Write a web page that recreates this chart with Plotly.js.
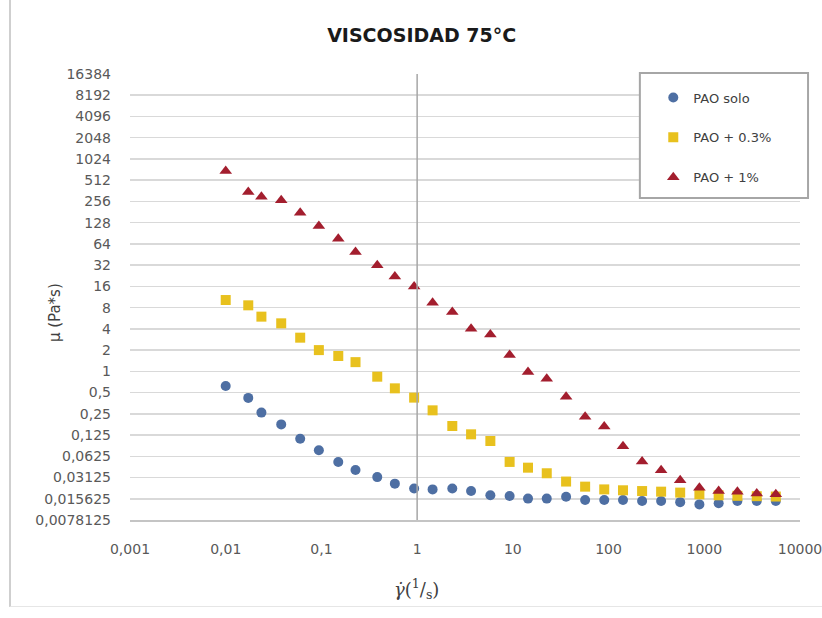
<!DOCTYPE html>
<html>
<head>
<meta charset="utf-8">
<script src="https://cdn.plot.ly/plotly-3.0.1.min.js"></script>
<style>
html,body{margin:0;padding:0;background:#fff;}
#wrap{position:relative;width:822px;height:618px;overflow:hidden;}
#chart{position:absolute;left:0;top:0;width:822px;height:618px;}
#frame{position:absolute;left:9px;top:-2px;width:830px;height:608px;border-left:2px solid #cfcfcf;border-bottom:1px solid #e6e6e6;pointer-events:none;}
</style>
</head>
<body>
<div id="wrap"><div id="chart"></div><div id="frame"></div></div>
<script>
// shear rate (1/s)
const shearRate = [0.01, 0.0172, 0.0236, 0.038, 0.060, 0.094, 0.150, 0.227, 0.383, 0.585,
  0.93, 1.45, 2.33, 3.66, 5.82, 9.25, 14.4, 22.6, 36, 56.9,
  90.1, 141.5, 224, 354, 560, 889, 1413, 2218, 3534, 5590];
// viscosity (Pa*s)
const paoSolo = [0.62, 0.42, 0.26, 0.177, 0.111, 0.076, 0.052, 0.040, 0.0317, 0.0256,
  0.0218, 0.0212, 0.0218, 0.0201, 0.0175, 0.0171, 0.0157, 0.0157, 0.0167, 0.0150,
  0.0150, 0.0150, 0.0145, 0.0145, 0.0140, 0.0130, 0.0135, 0.0145, 0.0145, 0.0145];
const pao03 = [10.25, 8.62, 5.96, 4.79, 3.00, 2.00, 1.65, 1.35, 0.84, 0.574,
  0.424, 0.280, 0.168, 0.128, 0.103, 0.052, 0.0431, 0.0359, 0.0274, 0.0232,
  0.0212, 0.0206, 0.0201, 0.0197, 0.0191, 0.0181, 0.0175, 0.0172, 0.0170, 0.0168];
const pao1 = [690, 348, 299, 265, 177, 115, 76, 49, 31.8, 22,
  15.9, 9.4, 6.93, 4.03, 3.34, 1.70, 0.977, 0.788, 0.438, 0.228,
  0.165, 0.087, 0.0526, 0.0396, 0.0285, 0.0224, 0.0201, 0.0197, 0.0186, 0.0181];

const seriesNames = ["PAO solo", "PAO + 0.3%", "PAO + 1%"];
const xTickText = ["0,001", "0,01", "0,1", "1", "10", "100", "1000", "10000"];
const yTickText = ["0,0078125", "0,015625", "0,03125", "0,0625", "0,125", "0,25", "0,5",
  "1", "2", "4", "8", "16", "32", "64", "128", "256", "512", "1024", "2048", "4096", "8192", "16384"];

const num = s => parseFloat(s.replace(",", "."));
const xTickVals = xTickText.map(num);
const yTickVals = yTickText.map(num);

const tickFont = {family: "DejaVu Sans, sans-serif", size: 14, color: "#595959"};

const traces = [
  {x: shearRate, y: paoSolo, name: seriesNames[0], legendgroup: "a", type: "scatter", mode: "markers",
   marker: {symbol: "circle", size: 10, color: "#4E6FA3"}},
  {x: shearRate, y: pao03, name: seriesNames[1], legendgroup: "b", type: "scatter", mode: "markers",
   marker: {symbol: "square", size: 10, color: "#E8C11E"}},
  {x: shearRate, y: pao1, name: seriesNames[2], legendgroup: "c", type: "scatter", mode: "markers",
   marker: {symbol: "triangle-up", size: 11, color: "#A31E2E"}}
];

const layout = {
  width: 822, height: 618,
  margin: {l: 130, r: 22, t: 74, b: 98},
  paper_bgcolor: "rgba(0,0,0,0)", plot_bgcolor: "#fff",
  showlegend: true,
  title: {text: "<b>VISCOSIDAD 75°C</b>", xref: "container", x: 0.513, xanchor: "center",
          yref: "container", y: 0.943, yanchor: "middle",
          font: {family: "DejaVu Sans, sans-serif", size: 19, color: "#1a1a1a"}},
  xaxis: {type: "log", range: [-3, 4], tickmode: "array", tickvals: xTickVals, ticktext: xTickText,
          showgrid: false, zeroline: false, showline: true, linecolor: "#c4c4c4", linewidth: 1.5,
          ticks: "", tickfont: tickFont, ticklabelstandoff: 16, ticklabeloverflow: "allow"},
  yaxis: {type: "log", range: [Math.log10(yTickVals[0]), Math.log10(yTickVals[yTickVals.length-1])],
          tickmode: "array", tickvals: yTickVals, ticktext: yTickText,
          showgrid: true, gridcolor: "#d9d9d9", gridwidth: 1.5, zeroline: false, showline: false,
          ticks: "", tickfont: tickFont, ticklabelstandoff: 18},
  legend: {x: 0.781, y: 0.981, xanchor: "left", yanchor: "top", bgcolor: "rgba(0,0,0,0)",
           borderwidth: 0, tracegroupgap: 20, font: {family: "DejaVu Sans, sans-serif", size: 13, color: "#404040"}},
  shapes: [
    {type: "line", xref: "x", yref: "paper", x0: 1, x1: 1, y0: 0, y1: 1,
     line: {color: "#a6a6a6", width: 1.5}, layer: "above"},
    {type: "rect", xref: "paper", yref: "paper", x0: 0.761, x1: 1.012, y0: 0.722, y1: 1.002,
     line: {color: "#a6a6a6", width: 2}, fillcolor: "#ffffff", layer: "above"}
  ],
  annotations: [
    {text: "μ (Pa*s)", xref: "paper", yref: "paper", x: -0.112, y: 0.466, textangle: -90,
     showarrow: false, xanchor: "center", yanchor: "middle",
     font: {family: "DejaVu Sans, sans-serif", size: 15, color: "#404040"}},
    {text: "<i>γ̇</i>(<sup>1</sup>/<sub>s</sub>)", xref: "paper", yref: "paper", x: 0.428, y: -0.155,
     showarrow: false, xanchor: "center", yanchor: "middle",
     font: {family: "DejaVu Serif, serif", size: 18, color: "#404040"}}
  ]
};

Plotly.newPlot("chart", traces, layout, {displayModeBar: false, staticPlot: true});
</script>
</body>
</html>
